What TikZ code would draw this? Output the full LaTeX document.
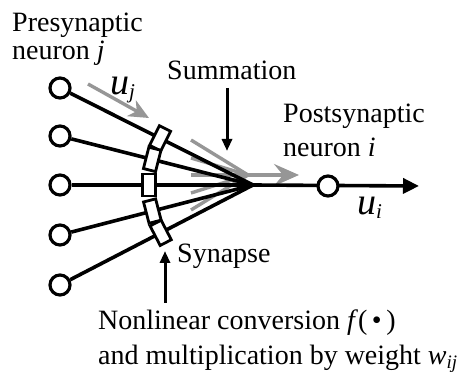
\documentclass[tikz,border=0pt]{standalone}
\usepackage{fontspec}
\setmainfont{Liberation Serif}
\usetikzlibrary{arrows.meta,calc}
\definecolor{sgray}{RGB}{150,150,150}
\begin{document}
\begin{tikzpicture}[x=1pt,y=-1pt,
  neuron/.style={circle,draw=black,line width=3.2pt,fill=white,minimum size=20pt,inner sep=0pt},
  synbox/.style={rectangle,draw=black,line width=2.8pt,fill=white,minimum width=12.5pt,minimum height=22pt,inner sep=0pt},
  wire/.style={line width=3.6pt,black},
  sig/.style={line width=3.4pt,draw=sgray},
  lbl/.style={anchor=base west,inner sep=0pt,font=\fontsize{28}{28}\selectfont},
  pointer/.style={line width=3pt,-{Triangle[length=12pt,width=10pt]}}
]
\useasboundingbox (0,0) rectangle (469,374);

% coordinates
\coordinate (conv) at (253,185);
\coordinate (tip) at (419,186);

% gray signal lines (drawn below)
\coordinate (gc) at (248,175);
\coordinate (g1) at (191,140);
\coordinate (g2) at (191,158);
\coordinate (g3) at (191,175);
\coordinate (g4) at (191,193);
\coordinate (g5) at (191,210);
\coordinate (gtip) at (299,175);
\draw[sig] (g1) -- (gc);
\draw[sig] (g2) -- (gc);
\draw[sig] (g4) -- (gc);
\draw[sig] (g5) -- (gc);
\draw[sig,-{Stealth[length=25pt,width=22pt,inset=9pt]}] (g3) -- (gtip);

% presynaptic neurons
\node[neuron] (j1) at (60,88) {};
\node[neuron] (j2) at (60,136) {};
\node[neuron] (j3) at (60,185) {};
\node[neuron] (j4) at (60,235) {};
\node[neuron] (j5) at (60,285) {};

% wires
\draw[wire] (j1) -- (conv);
\draw[wire] (j2) -- (conv);
\draw[wire] (j3) -- (conv);
\draw[wire] (j4) -- (conv);
\draw[wire] (j5) -- (conv);
\draw[wire,-{Triangle[length=16pt,width=15pt]}] (conv) -- (tip);

% synapses
\node[synbox,rotate=-26.7] (s1) at ($(conv)!104pt!(j1)$) {};
\node[synbox,rotate=-14.2] (s2) at ($(conv)!104pt!(j2)$) {};
\node[synbox] (s3) at ($(conv)!104pt!(j3)$) {};
\node[synbox,rotate=14.5] (s4) at ($(conv)!104pt!(j4)$) {};
\node[synbox,rotate=27.4] (s5) at ($(conv)!104pt!(j5)$) {};

% postsynaptic neuron
\node[neuron] (post) at (328,186) {};

% input signal arrow
\coordinate (ujs) at (88,84);
\coordinate (uje) at (149,118);
\draw[sig,-{Stealth[length=20pt,width=18pt,inset=6pt]}] (ujs) -- (uje);

% pointers
\coordinate (sumtop) at (227,88);
\coordinate (sumtip) at (227,151);
\draw[pointer] (sumtop) -- (sumtip);
\coordinate (synbot) at (165,303);
\coordinate (syntip) at (165,251);
\draw[pointer] (synbot) -- (syntip);

% labels
\node[lbl] (pre1) at (12,32) {Presynaptic};
\node[lbl] (pre2) at (12,60) {neuron \textit{j}};
\node[lbl] (uj) at (110,95) {\fontsize{38}{38}\selectfont\textit{u}\raisebox{-4pt}{\fontsize{21}{21}\selectfont\textit{j}}};
\node[lbl] (sum) at (167,80) {Summation};
\node[lbl] (post1) at (283,123) {Postsynaptic};
\node[lbl] (post2) at (283,157) {neuron \textit{i}};
\node[lbl] (ui) at (357,215) {\fontsize{38}{38}\selectfont\textit{u}\raisebox{-4pt}{\fontsize{21}{21}\selectfont\textit{i}}};
\node[lbl] (syn) at (177,263) {Synapse};
\node[lbl] (nl1) at (98,330) {Nonlinear conversion \textit{f}(\,•\,)};
\node[lbl] (nl2) at (98,364) {and multiplication by weight \textit{w}\raisebox{-5pt}{\fontsize{19}{19}\selectfont\textit{ij}}};
\end{tikzpicture}
\end{document}
